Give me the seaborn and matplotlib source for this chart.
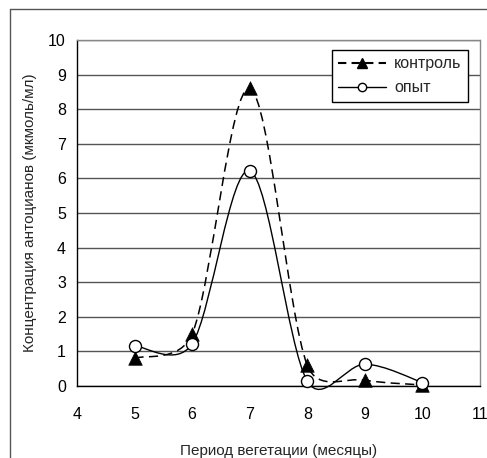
import numpy as np
import pandas as pd
import matplotlib
matplotlib.use("Agg")
import matplotlib.pyplot as plt
from matplotlib.path import Path
from matplotlib.patches import PathPatch
from matplotlib.lines import Line2D
import seaborn as sns

# DATA
months = [5, 6, 7, 8, 9, 10]
control = [0.8, 1.5, 8.6, 0.6, 0.17, 0.03]
experiment = [1.16, 1.22, 6.22, 0.14, 0.63, 0.1]
series_names = ["контроль", "опыт"]
x_ticks = [4, 5, 6, 7, 8, 9, 10, 11]
y_ticks = [0, 1, 2, 3, 4, 5, 6, 7, 8, 9, 10]

df = pd.DataFrame({
    "month": months * 2,
    "value": control + experiment,
    "series": [series_names[0]] * len(months) + [series_names[1]] * len(months),
})

sns.set_style("white")
plt.rcParams["font.family"] = ["Liberation Sans", "DejaVu Sans"]

# pixels per data unit, used only to weight the smoothing like a spreadsheet does
PX_X, PX_Y = 57.6, 34.6


def smooth_path(xs, ys):
    # spreadsheet-style smoothed line: bezier, tangent/6, capped at half the segment
    pts = np.column_stack([xs, ys]).astype(float)
    scale = np.array([PX_X, PX_Y])
    scr = pts * scale
    n = len(pts)
    verts = [pts[0]]
    codes = [Path.MOVETO]
    for i in range(n - 1):
        p0 = scr[max(i - 1, 0)]
        p1 = scr[i]
        p2 = scr[i + 1]
        p3 = scr[min(i + 2, n - 1)]
        d12 = np.hypot(*(p2 - p1))
        d02 = np.hypot(*(p2 - p0))
        d13 = np.hypot(*(p3 - p1))
        f1 = 1 / 6 if d02 / 6 < d12 / 2 else d12 / d02 / 2
        f2 = 1 / 6 if d13 / 6 < d12 / 2 else d12 / d13 / 2
        c1 = p1 + (p2 - p0) * f1
        c2 = p2 - (p3 - p1) * f2
        verts += [c1 / scale, c2 / scale, pts[i + 1]]
        codes += [Path.CURVE4] * 3
    return Path(verts, codes)


fig = plt.figure(figsize=(4.87, 4.58), dpi=100)
ax = fig.add_axes([77 / 487, 1 - 386 / 458, 403 / 487, 346 / 458])

# smoothed lines
ax.add_patch(PathPatch(smooth_path(months, control), fill=False, edgecolor="black",
                       linewidth=1.1, linestyle=(0, (6, 3.5)), zorder=3, clip_on=False))
ax.add_patch(PathPatch(smooth_path(months, experiment), fill=False, edgecolor="black",
                       linewidth=1.0, zorder=3, clip_on=False))

# markers
sub_c = df[df["series"] == series_names[0]]
sub_e = df[df["series"] == series_names[1]]
sns.scatterplot(data=sub_c, x="month", y="value", marker="^", s=95, color="black",
                edgecolor="black", linewidth=0.5, ax=ax, zorder=4, legend=False, clip_on=False)
sns.scatterplot(data=sub_e, x="month", y="value", marker="o", s=75, color="white",
                edgecolor="black", linewidth=1.0, ax=ax, zorder=5, legend=False, clip_on=False)

ax.set_xlim(4, 11)
ax.set_ylim(0, 10)
ax.set_xticks(x_ticks)
ax.set_yticks(y_ticks)
ax.yaxis.grid(True, color="#555555", linewidth=1.0)
ax.set_axisbelow(True)

for side in ["left", "bottom"]:
    ax.spines[side].set_color("black")
    ax.spines[side].set_linewidth(1.0)
ax.spines["right"].set_color("#888888")
ax.spines["right"].set_linewidth(1.0)
ax.spines["top"].set_visible(False)

ax.tick_params(axis="both", direction="out", length=5, width=1, color="black",
               labelsize=11.5, colors="black")
ax.tick_params(axis="x", pad=10)
ax.tick_params(axis="y", pad=3)

ax.set_xlabel("Период вегетации (месяцы)", fontsize=11, labelpad=16)
ax.set_ylabel("Концентрация антоцианов (мкмоль/мл)", fontsize=11, labelpad=8)

handles = [
    Line2D([], [], color="black", linestyle=(0, (4, 2.5)), linewidth=1.5,
           marker="^", markersize=7, markerfacecolor="black"),
    Line2D([], [], color="black", linestyle="-", linewidth=1.0,
           marker="o", markersize=6, markerfacecolor="white"),
]
leg = ax.legend(handles, series_names, loc="upper right", bbox_to_anchor=(0.970, 0.971),
                borderaxespad=0, fontsize=11.5, frameon=True, fancybox=False,
                edgecolor="black", framealpha=1, handlelength=3.0, handletextpad=0.5,
                borderpad=0.4, labelspacing=0.55)
leg.get_frame().set_linewidth(1.0)

# outer frame lines (top and left)
fig.add_artist(Line2D([10 / 487, 1], [1 - 9 / 458] * 2, color="#555555", linewidth=1.0))
fig.add_artist(Line2D([10 / 487] * 2, [0, 1 - 9 / 458], color="#555555", linewidth=1.0))
# plot-area top edge
fig.add_artist(Line2D([77 / 487, 480 / 487], [1 - 40 / 458] * 2, color="#888888", linewidth=1.0))

fig.savefig("out.png", dpi=100)
